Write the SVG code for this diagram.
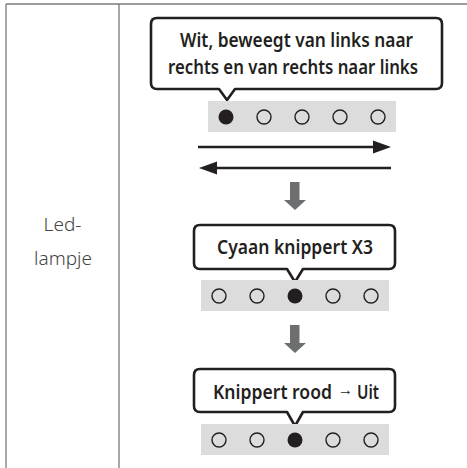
<svg xmlns="http://www.w3.org/2000/svg" width="467" height="468" viewBox="0 0 467 468">
<style>
.grid{stroke:#7a7a7a;stroke-width:1.3;fill:none}
.bubble{fill:#fff;stroke:#231f20;stroke-width:2.6;stroke-linejoin:round}
.bt{font-family:"Noto Sans","Open Sans","Liberation Sans",sans-serif;font-weight:600;font-size:20px;fill:#231f20}
.lbl{font-family:"Noto Sans","Open Sans","Liberation Sans",sans-serif;font-weight:300;font-size:19px;fill:#444}
.bar{fill:#dcdcdc}
.off{fill:none;stroke:#231f20;stroke-width:1.4}
.on{fill:#231f20}
.line{stroke:#231f20;stroke-width:2.6}
.head{fill:#231f20}
.down{fill:#6d6e70}
</style>
<g id="table">
<line class="grid" x1="6" y1="4" x2="467" y2="4"/>
<line class="grid" x1="6" y1="4" x2="6" y2="468"/>
<line class="grid" x1="119" y1="4" x2="119" y2="468"/>
</g>
<g id="label">
<text class="lbl" x="62.5" y="231" text-anchor="middle">Led-</text>
<text class="lbl" x="63" y="265" text-anchor="middle">lampje</text>
</g>
<g id="step1">
<path class="bubble" d="M157,18 H436 Q442,18 442,24 V83 Q442,89 436,89 H235 L227,100 L219,89 H157 Q151,89 151,83 V24 Q151,18 157,18 Z"/>
<text class="bt" x="296.5" y="47" text-anchor="middle" textLength="233" lengthAdjust="spacingAndGlyphs">Wit, beweegt van links naar</text>
<text class="bt" x="293" y="74" text-anchor="middle" textLength="250" lengthAdjust="spacingAndGlyphs">rechts en van rechts naar links</text>
<rect class="bar" x="208" y="101" width="188" height="31"/>
<circle class="on" cx="226" cy="117" r="7.5"/>
<circle class="off" cx="264" cy="117" r="7"/>
<circle class="off" cx="302" cy="117" r="7"/>
<circle class="off" cx="340" cy="117" r="7"/>
<circle class="off" cx="378" cy="117" r="7"/>
</g>
<g id="connectors">
<line class="line" x1="198" y1="147" x2="375" y2="147"/>
<polygon class="head" points="373,140.5 391,147 373,153.5"/>
<line class="line" x1="215" y1="168" x2="391" y2="168"/>
<polygon class="head" points="217,161.5 199,168 217,174.5"/>
<rect class="down" x="290" y="182" width="9.5" height="19"/>
<polygon class="down" points="284,200 306,200 295,210"/>
<rect class="down" x="290" y="325" width="9.5" height="19"/>
<polygon class="down" points="284,343 306,343 295,353"/>
</g>
<g id="step2">
<path class="bubble" d="M200,225 H389 Q395,225 395,231 V263 Q395,269 389,269 H303 L295,282 L287,269 H200 Q194,269 194,263 V231 Q194,225 200,225 Z"/>
<text class="bt" x="295" y="254" text-anchor="middle" textLength="156" lengthAdjust="spacingAndGlyphs">Cyaan knippert X3</text>
<rect class="bar" x="201" y="280" width="188" height="31"/>
<circle class="off" cx="219" cy="296" r="7"/>
<circle class="off" cx="257" cy="296" r="7"/>
<circle class="on" cx="295" cy="296" r="7.5"/>
<circle class="off" cx="333" cy="296" r="7"/>
<circle class="off" cx="371" cy="296" r="7"/>
</g>
<g id="step3">
<path class="bubble" d="M200,369 H389 Q395,369 395,375 V406 Q395,412 389,412 H303 L295,426 L287,412 H200 Q194,412 194,406 V375 Q194,369 200,369 Z"/>
<text class="bt" x="213" y="399"><tspan textLength="119" lengthAdjust="spacingAndGlyphs">Knippert rood</tspan><tspan x="338" y="395" textLength="15" lengthAdjust="spacingAndGlyphs" style="font-size:16px;font-weight:400">→</tspan><tspan x="357" y="399" textLength="22" lengthAdjust="spacingAndGlyphs">Uit</tspan></text>
<rect class="bar" x="201" y="424" width="188" height="31"/>
<circle class="off" cx="219" cy="440" r="7"/>
<circle class="off" cx="257" cy="440" r="7"/>
<circle class="on" cx="295" cy="440" r="7.5"/>
<circle class="off" cx="333" cy="440" r="7"/>
<circle class="off" cx="371" cy="440" r="7"/>
</g>
</svg>
